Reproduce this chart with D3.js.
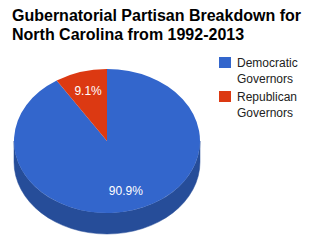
<!DOCTYPE html>
<html>
<head>
<meta charset="utf-8">
<script src="https://cdn.jsdelivr.net/npm/d3@7"></script>
<style>
  body { margin: 0; background: #fff; }
  svg { display: block; font-family: Arial, "Liberation Sans", sans-serif; }
</style>
</head>
<body>
<svg id="chart"></svg>
<script>
// chart data
const titleLines = ['Gubernatorial Partisan Breakdown for', 'North Carolina from 1992-2013'];
const categories = ['Democratic Governors', 'Republican Governors'];
const legendLines = [['Democratic', 'Governors'], ['Republican', 'Governors']];
const shares = [90.9, 9.1];
const colors = ['#3366cc', '#dc3912'];

const width = 315, height = 244;
const cx = 107, cy = 141, rx = 93, ry = 72, depth = 21;

const svg = d3.select('#chart').attr('width', width).attr('height', height);

// title
svg.append('g').selectAll('text')
  .data(titleLines)
  .enter().append('text')
  .attr('x', 12)
  .attr('y', (d, i) => 21 + i * 19)
  .attr('font-size', 16)
  .attr('font-weight', 'bold')
  .attr('fill', '#000')
  .text(d => d);

const pie = d3.pie().sort(null).value(d => d);
const slices = pie(shares);
const color = d3.scaleOrdinal().domain(d3.range(shares.length)).range(colors);

const pt = (a, dy) => [cx + rx * Math.sin(a), cy - ry * Math.cos(a) + dy];

// sides of the front half
const sideG = svg.append('g');
slices.forEach((s, i) => {
  const a0 = Math.max(s.startAngle, Math.PI / 2);
  const a1 = Math.min(s.endAngle, 3 * Math.PI / 2);
  if (a1 <= a0) return;
  const p0 = pt(a0, 0), p1 = pt(a1, 0), q1 = pt(a1, depth), q0 = pt(a0, depth);
  const c = d3.rgb(color(i));
  const dark = d3.rgb(c.r * 0.75, c.g * 0.75, c.b * 0.75);
  sideG.append('path')
    .attr('d', `M${p0}A${rx},${ry} 0 0 1 ${p1}L${q1}A${rx},${ry} 0 0 0 ${q0}Z`)
    .attr('fill', dark)
    .attr('stroke', dark)
    .attr('stroke-width', 0.5);
});

// top face: circle arcs squashed into an ellipse
const arc = d3.arc().innerRadius(0).outerRadius(rx);
const topG = svg.append('g')
  .attr('transform', `translate(${cx},${cy}) scale(1,${ry / rx})`);
topG.selectAll('path')
  .data(slices)
  .enter().append('path')
  .attr('d', arc)
  .attr('fill', (d, i) => color(i));

// slice labels
svg.append('g').selectAll('text')
  .data(slices)
  .enter().append('text')
  .attr('x', d => pt((d.startAngle + d.endAngle) / 2, 0)[0] * 0.72 + cx * 0.28)
  .attr('y', d => pt((d.startAngle + d.endAngle) / 2, 0)[1] * 0.72 + cy * 0.28)
  .attr('text-anchor', 'middle')
  .attr('dominant-baseline', 'central')
  .attr('font-size', 12)
  .attr('fill', '#fff')
  .text(d => d3.format('.1f')(d.data) + '%');

// legend
const legend = svg.append('g').selectAll('g')
  .data(categories)
  .enter().append('g')
  .attr('transform', (d, i) => `translate(219,${57 + i * 34})`);
legend.append('rect')
  .attr('width', 12).attr('height', 11)
  .attr('fill', (d, i) => color(i));
legend.append('text')
  .attr('x', 18)
  .attr('font-size', 12)
  .attr('fill', '#222')
  .selectAll('tspan')
  .data((d, i) => legendLines[i])
  .enter().append('tspan')
  .attr('x', 18)
  .attr('y', (d, j) => 10 + j * 16)
  .text(d => d);
</script>
</body>
</html>
